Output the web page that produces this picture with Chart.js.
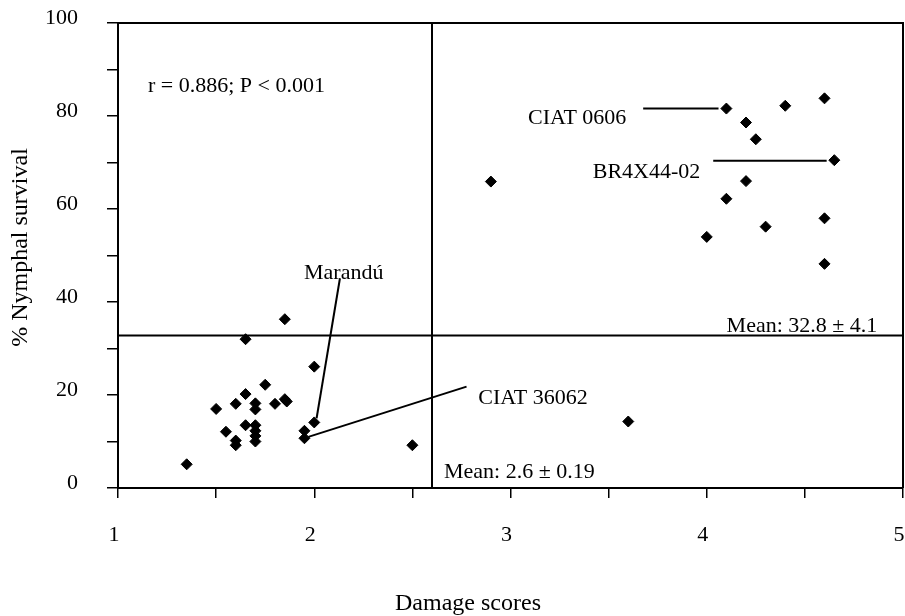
<!DOCTYPE html>
<html>
<head>
<meta charset="utf-8">
<script src="https://cdn.jsdelivr.net/npm/chart.js@4.4.1/dist/chart.umd.min.js"></script>
<style>
  html, body { margin: 0; padding: 0; background: #fff; }
</style>
</head>
<body>
<canvas id="chart" width="905" height="616"></canvas>
<script>
// Damage score vs. nymphal survival, one entry per genotype
const damageScores = [
  4.10, 4.40, 4.60, 4.20, 4.25, 4.65, 4.20, 4.10, 4.60, 4.30, 4.00, 4.60,
  2.90, 3.60, 2.50,
  1.85, 1.65, 2.00, 1.75, 1.65, 1.50, 1.60, 1.70, 1.70, 1.80, 1.85, 1.86,
  2.00, 1.65, 1.70, 1.70, 1.70, 1.70, 1.55, 1.60, 1.60, 1.95, 1.95, 1.35
];
const nymphalSurvival = [
  81.6, 82.2, 83.8, 78.6, 75.0, 70.5, 66.0, 62.2, 58.0, 56.2, 54.0, 48.2,
  65.9, 14.3, 9.2,
  36.3, 32.0, 26.1, 22.2, 20.2, 17.0, 18.1, 18.2, 16.9, 18.1, 19.1, 18.6,
  14.1, 13.5, 13.5, 12.3, 11.2, 10.0, 12.1, 10.2, 9.2, 12.3, 10.7, 5.1
];

const meanDamage = 2.6;
const meanSurvival = 32.8;

const xTicks = [1, 2, 3, 4, 5];
const yTicks = [0, 20, 40, 60, 80, 100];

// callouts: leader line ends and label anchors, in axis units
const calloutLines = [
  [[3.676, 81.6], [4.06, 81.6]],   // CIAT 0606
  [[4.033, 70.4], [4.611, 70.4]],  // BR4X44-02
  [[2.131, 45.1], [2.012, 15.0]],  // Marandú
  [[1.970, 11.0], [2.776, 21.8]]   // CIAT 36062
];
const notes = [
  ['r = 0.886; P < 0.001', 1.153, 86.5],
  ['CIAT 0606', 3.089, 79.6],
  ['BR4X44-02', 3.419, 68.0],
  ['Marandú', 1.948, 46.2],
  ['CIAT 36062', 2.836, 19.3],
  ['Mean: ' + meanSurvival + ' ± 4.1', 4.101, 34.7],
  ['Mean: ' + meanDamage + ' ± 0.19', 2.661, 3.5]
];

const serif = '"Liberation Serif", "Times New Roman", serif';

const points = damageScores.map((d, i) => ({ x: d, y: nymphalSurvival[i] }));

function segment(a, b) {
  return {
    data: [{ x: a[0], y: a[1] }, { x: b[0], y: b[1] }],
    showLine: true,
    borderColor: '#000',
    borderWidth: 2,
    pointRadius: 0
  };
}

const datasets = [
  {
    data: points,
    pointStyle: 'rectRot',
    pointRadius: 5.5,
    backgroundColor: '#000',
    borderColor: '#000',
    borderWidth: 1
  },
  segment([meanDamage, 0], [meanDamage, 100]),
  segment([1, meanSurvival], [5, meanSurvival]),
  ...calloutLines.map(l => segment(l[0], l[1]))
];

// box frame, free text and axis titles
const decorations = {
  id: 'decorations',
  afterDatasetsDraw(chart) {
    const { ctx, chartArea, scales } = chart;
    ctx.save();
    ctx.strokeStyle = '#000';
    ctx.lineWidth = 2;
    ctx.beginPath();
    ctx.moveTo(chartArea.left, chartArea.top);
    ctx.lineTo(chartArea.right, chartArea.top);
    ctx.lineTo(chartArea.right, chartArea.bottom);
    ctx.stroke();

    ctx.fillStyle = '#000';
    ctx.font = '22px ' + serif;
    ctx.textAlign = 'left';
    ctx.textBaseline = 'middle';
    notes.forEach(([text, x, y]) => {
      ctx.fillText(text, scales.x.getPixelForValue(x), scales.y.getPixelForValue(y));
    });

    ctx.font = '24px ' + serif;
    ctx.textAlign = 'center';
    ctx.textBaseline = 'alphabetic';
    ctx.fillText('Damage scores', 468, 610);

    ctx.translate(27, (chartArea.top + chartArea.bottom) / 2 - 8);
    ctx.rotate(-Math.PI / 2);
    ctx.fillText('% Nymphal survival', 0, 0);
    ctx.restore();
  }
};

new Chart(document.getElementById('chart'), {
  type: 'scatter',
  data: { datasets },
  options: {
    responsive: false,
    animation: false,
    layout: { autoPadding: false, padding: { top: 23, right: 2, left: 0, bottom: 0 } },
    plugins: { legend: { display: false }, tooltip: { enabled: false } },
    scales: {
      x: {
        type: 'linear',
        min: 1,
        max: 5,
        afterFit(scale) {
          scale.height = 128;
          scale.paddingLeft = 0;
          scale.paddingRight = 0;
        },
        ticks: {
          stepSize: 0.5,
          autoSkip: false,
          maxRotation: 0,
          labelOffset: -4,
          padding: 24,
          color: '#000',
          font: { family: serif, size: 22 },
          callback: v => (xTicks.includes(v) ? String(v) : '')
        },
        grid: { drawOnChartArea: false, tickLength: 10, color: '#000', lineWidth: 1.5 },
        border: { color: '#000', width: 2 }
      },
      y: {
        type: 'linear',
        min: 0,
        max: 100,
        afterFit(scale) {
          scale.width = 118;
          scale.paddingTop = 0;
          scale.paddingBottom = 0;
        },
        ticks: {
          stepSize: 10,
          autoSkip: false,
          labelOffset: -5,
          padding: 29,
          color: '#000',
          font: { family: serif, size: 22 },
          callback: v => (yTicks.includes(v) ? String(v) : '')
        },
        grid: { drawOnChartArea: false, tickLength: 11, color: '#000', lineWidth: 1.5 },
        border: { color: '#000', width: 2 }
      }
    }
  },
  plugins: [decorations]
});
</script>
</body>
</html>
